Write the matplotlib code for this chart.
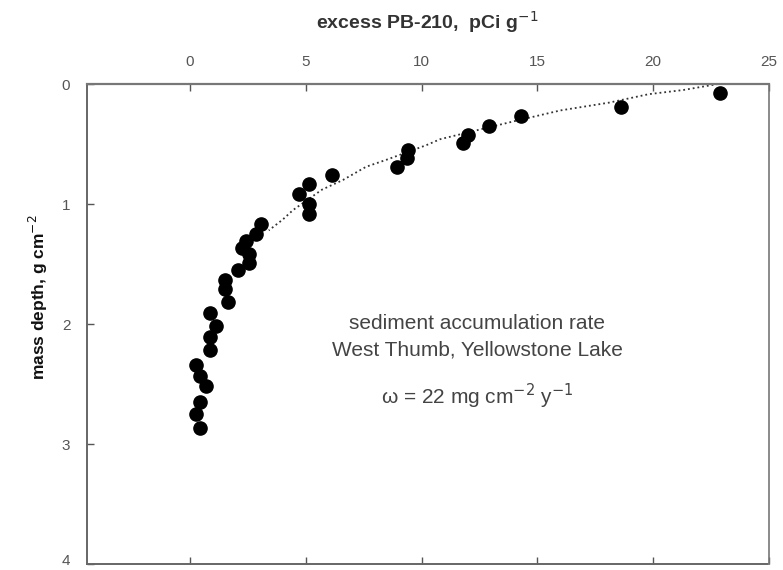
import matplotlib.pyplot as plt
import matplotlib.transforms as mtransforms
from matplotlib import font_manager

# excess Pb-210 activity (pCi/g) vs mass depth (g/cm2)
pb210 = [22.9, 18.6, 14.3, 12.9, 12.0, 11.8, 9.4, 9.35, 8.95, 6.15, 5.15, 4.7,
         5.15, 5.15, 3.05, 2.85, 2.4, 2.25, 2.55, 2.55, 2.05, 1.5, 1.5, 1.65,
         0.85, 1.1, 0.85, 0.85, 0.25, 0.45, 0.7, 0.45, 0.25, 0.45]
depth = [0.075, 0.19, 0.27, 0.35, 0.425, 0.49, 0.55, 0.62, 0.69, 0.76, 0.83, 0.92,
         1.0, 1.08, 1.17, 1.25, 1.31, 1.37, 1.42, 1.49, 1.55, 1.63, 1.71, 1.82,
         1.91, 2.02, 2.11, 2.22, 2.34, 2.43, 2.52, 2.65, 2.75, 2.87]

# dotted fit line
fit_x = [22.8, 21.3, 19.8, 18.1, 16.0, 14.0, 12.5, 10.8, 10.2, 8.5, 7.6, 6.6, 5.7, 4.45, 4.0, 3.4]
fit_y = [0.0, 0.05, 0.085, 0.155, 0.22, 0.31, 0.38, 0.46, 0.51, 0.63, 0.69, 0.8, 0.88, 1.05, 1.13, 1.22]

xticks = [0, 5, 10, 15, 20, 25]
yticks = [0, 1, 2, 3, 4]

names = {f.name for f in font_manager.fontManager.ttflist}
tick_font = 'Liberation Sans Narrow' if 'Liberation Sans Narrow' in names else 'Liberation Sans'

plt.rcParams['font.family'] = ['Liberation Sans', 'DejaVu Sans']

fig = plt.figure(figsize=(7.83, 5.70), dpi=100)
ax = fig.add_axes([87 / 783, 1 - 564 / 570, (769 - 87) / 783, (564 - 84) / 570])

ax.plot(fit_x, fit_y, linestyle=':', color='#333333', linewidth=1.3, zorder=2)
ax.plot(pb210, depth, 'o', color='black', markersize=9.5, zorder=3)

ax.set_xlim(-4.45, 25)
ax.set_ylim(4, 0)
ax.set_xticks(xticks)
ax.set_yticks(yticks)

ax.xaxis.tick_top()
ax.tick_params(axis='x', which='both', top=True, bottom=True, direction='in',
               length=5, width=1, color='#555555', pad=11, labelsize=11, labelcolor='#555555')
ax.tick_params(axis='y', direction='in', length=5, width=1, color='#555555',
               pad=12, labelsize=11, labelcolor='#555555')
for lbl in ax.get_xticklabels() + ax.get_yticklabels():
    lbl.set_family(tick_font)

# keep the bottom "4" inside the canvas
last = ax.get_yticklabels()[-1]
last.set_transform(last.get_transform() + mtransforms.ScaledTranslation(0, 3 / 72, fig.dpi_scale_trans))

ax.spines['top'].set_color('#777777')
ax.spines['top'].set_linewidth(1.6)
ax.spines['right'].set_color('#777777')
ax.spines['right'].set_linewidth(1.2)
for side in ['left', 'bottom']:
    ax.spines[side].set_color('#666666')
    ax.spines[side].set_linewidth(1.4)
    ax.spines[side].set_linestyle((0, (2, 1)))

fig.text(427 / 783, 1 - 22 / 570, 'excess PB-210,  pCi g$^{-1}$', ha='center', va='center',
         fontsize=14, fontweight='bold', color='#333333')
fig.text(38 / 783, 1 - 297 / 570, 'mass depth, g cm$^{-2}$', ha='center', va='center',
         rotation=90, fontsize=12.5, fontweight='bold', color='#111111')

note_kw = dict(ha='center', va='center', fontsize=15, color='#444444')
ax.text(12.4, 1.995, 'sediment accumulation rate', **note_kw)
ax.text(12.4, 2.22, 'West Thumb, Yellowstone Lake', **note_kw)
ax.text(12.4, 2.6, 'ω = 22 mg cm$^{-2}$ y$^{-1}$', **note_kw)

fig.savefig('out.png', dpi=100)
